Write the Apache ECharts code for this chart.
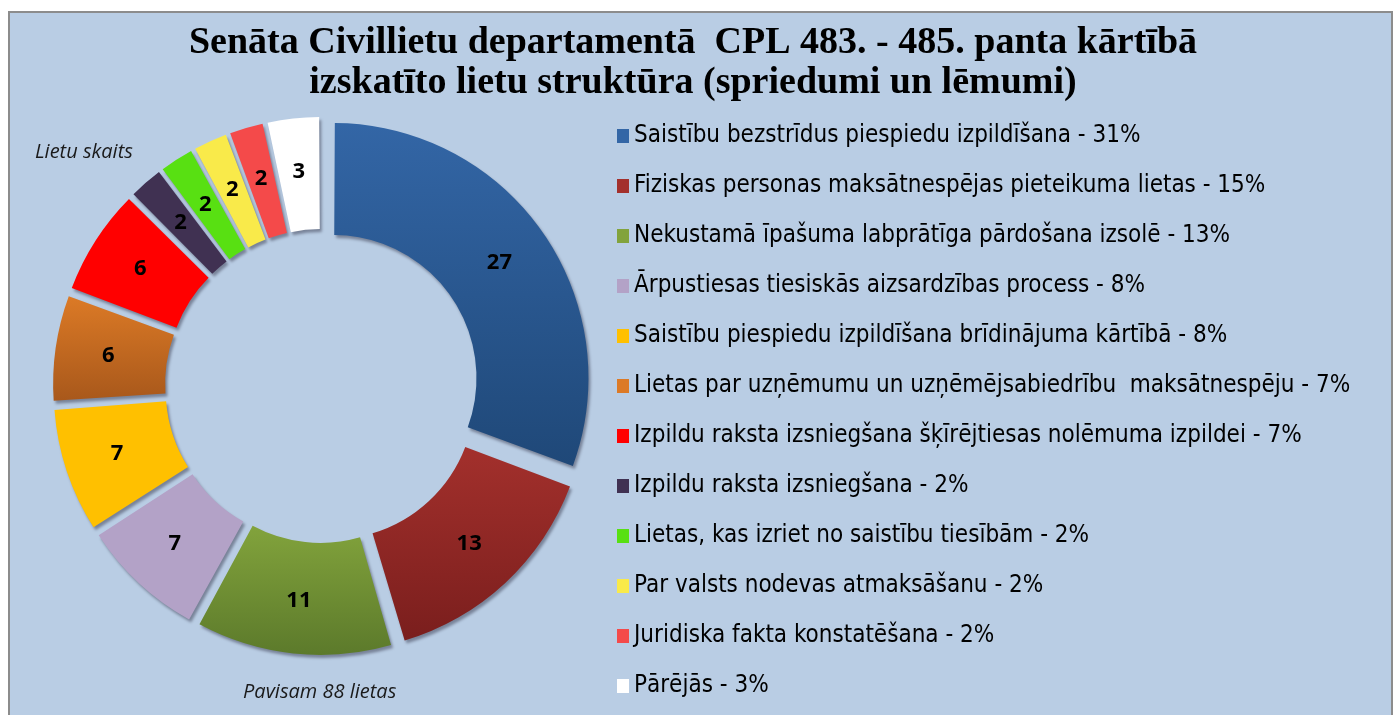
<!DOCTYPE html>
<html>
<head>
<meta charset="utf-8">
<script src="https://cdn.jsdelivr.net/npm/echarts@6/dist/echarts.min.js"></script>
<style>
  html, body { margin: 0; padding: 0; background: #fff; }
  #chart { width: 1397px; height: 715px; }
</style>
</head>
<body>
<div id="chart"></div>
<script>
// lietu kategorijas (pulksteņrādītāja virzienā no augšas)
var categories = [
    'Saistību bezstrīdus piespiedu izpildīšana',
    'Fiziskas personas maksātnespējas pieteikuma lietas',
    'Nekustamā īpašuma labprātīga pārdošana izsolē',
    'Ārpustiesas tiesiskās aizsardzības process',
    'Saistību piespiedu izpildīšana brīdinājuma kārtībā',
    'Lietas par uzņēmumu un uzņēmējsabiedrību  maksātnespēju',
    'Izpildu raksta izsniegšana šķīrējtiesas nolēmuma izpildei',
    'Izpildu raksta izsniegšana',
    'Lietas, kas izriet no saistību tiesībām',
    'Par valsts nodevas atmaksāšanu',
    'Juridiska fakta konstatēšana',
    'Pārējās'
];
// lietu skaits
var counts = [27, 13, 11, 7, 7, 6, 6, 2, 2, 2, 2, 3];
// procenti leģendā
var percents = [31, 15, 13, 8, 8, 7, 7, 2, 2, 2, 2, 3];

var colors = [
    ['#3366a6', '#1f4878'],
    ['#a3302c', '#7a1e1d'],
    ['#82a33c', '#5c7a2b'],
    ['#b3a2c7', '#b3a2c7'],
    ['#ffc000', '#ffc000'],
    ['#dc7a26', '#a8581b'],
    ['#ff0000', '#ff0000'],
    ['#403152', '#403152'],
    ['#58e012', '#58e012'],
    ['#f9ea4a', '#f9ea4a'],
    ['#f44a4a', '#f44a4a'],
    ['#ffffff', '#ffffff']
];

var chart = echarts.init(document.getElementById('chart'));

var pieData = [];
for (let i = 0; i < categories.length; i++) {
    pieData.push({
        name: categories[i],
        value: counts[i],
        selected: true,
        itemStyle: {
            color: new echarts.graphic.LinearGradient(0, 0, 0, 1, [
                { offset: 0, color: colors[i][0] },
                { offset: 1, color: colors[i][1] }
            ])
        }
    });
}

var option = {
    backgroundColor: '#ffffff',
    color: colors.map(function (c) { return c[0]; }),
    title: {
        text: 'Senāta Civillietu departamentā  CPL 483. - 485. panta kārtībā\nizskatīto lietu struktūra (spriedumi un lēmumi)',
        left: 688,
        top: 18,
        textAlign: 'center',
        textStyle: {
            fontFamily: 'Liberation Serif',
            fontWeight: 'bold',
            fontSize: 38,
            lineHeight: 40,
            color: '#000'
        }
    },
    legend: {
        orient: 'vertical',
        left: 612,
        top: 119,
        height: 592,
        itemWidth: 12,
        itemHeight: 14,
        itemGap: 26,
        icon: 'rect',
        textStyle: {
            fontFamily: 'DejaVu Sans Condensed, sans-serif',
            fontSize: 24,
            lineHeight: 24,
            color: '#000'
        },
        formatter: function (name) {
            let i = categories.indexOf(name);
            return name + ' - ' + percents[i] + '%';
        },
        data: categories.map(function (n, i) {
            return { name: n, itemStyle: { color: colors[i][0] } };
        })
    },
    graphic: [
        {
            type: 'rect',
            z: -10,
            shape: { x: 9, y: 12, width: 1383, height: 720 },
            style: { fill: '#b9cde4', stroke: '#8c8c8c', lineWidth: 2 }
        },
        {
            type: 'text',
            left: 35,
            top: 142,
            style: {
                text: 'Lietu skaits',
                font: 'italic 20px "Open Sans", sans-serif',
                fill: '#1a1a1a'
            }
        },
        {
            type: 'text',
            left: 243,
            top: 682,
            style: {
                text: 'Pavisam 88 lietas',
                font: 'italic 20px "Open Sans", sans-serif',
                fill: '#1a1a1a'
            }
        }
    ],
    series: [
        {
            type: 'pie',
            center: [322, 386],
            radius: [143, 255],
            startAngle: 90,
            clockwise: true,
            selectedMode: 'multiple',
            selectedOffset: 14,
            padAngle: 0.6,
            silent: true,
            itemStyle: {
                shadowColor: 'rgba(40,40,60,0.45)',
                shadowBlur: 3,
                shadowOffsetX: 2,
                shadowOffsetY: 3
            },
            label: {
                show: true,
                position: 'inside',
                formatter: '{c}',
                fontFamily: 'Open Sans, sans-serif',
                fontWeight: 'bold',
                fontSize: 22,
                color: '#000'
            },
            labelLine: { show: false },
            data: pieData
        }
    ]
};
chart.setOption(option);
</script>
</body>
</html>
